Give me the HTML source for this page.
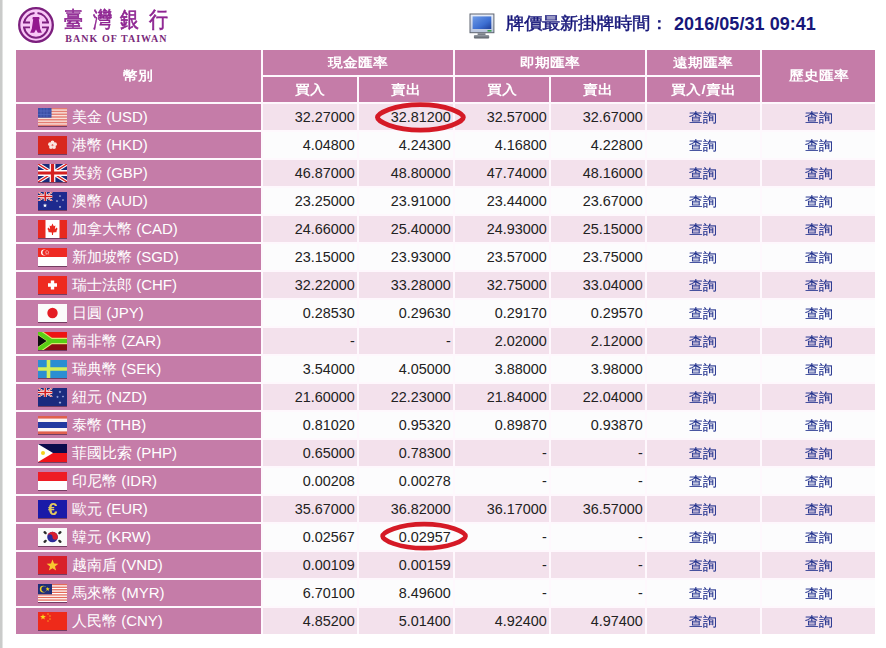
<!DOCTYPE html>
<html><head><meta charset="utf-8">
<style>
html,body{margin:0;padding:0;background:#fff;}
body{width:886px;height:648px;position:relative;overflow:hidden;font-family:"Liberation Sans",sans-serif;}
.c{position:absolute;display:flex;align-items:center;justify-content:center;box-sizing:border-box;}
.h{color:#fff;font-weight:bold;font-size:15px;line-height:15px;transform:scaleY(0.88);}
.nm{color:#fff;font-size:15px;line-height:15px;white-space:nowrap;}
.n{color:#222;font-size:14.4px;line-height:14px;padding-right:2px;position:relative;top:0.6px;}
.q{color:#20308c;-webkit-text-stroke:0.15px #20308c;font-size:14px;line-height:14px;position:relative;top:0.4px;transform:scaleY(0.94);}
.flag{display:block;position:relative;top:0px;margin-left:22px;margin-right:5px;flex:none;filter:drop-shadow(0.3px 1px 0.5px rgba(50,10,40,0.55));}
.bar{position:absolute;left:0;top:0;width:3.2px;height:648px;background:linear-gradient(90deg,#cacbca 0,#cacbca 1.9px,#fff 3.2px);}
.lg{position:absolute;top:7.2px;width:30px;text-align:center;color:#8e2592;font-size:22px;line-height:26px;-webkit-text-stroke:0.6px #8e2592;transform:scaleX(0.86);}
.title{position:absolute;left:505.5px;top:13.2px;transform:scaleY(0.92);font-size:18px;line-height:20px;font-weight:normal;-webkit-text-stroke:0.45px #17177a;color:#17177a;white-space:nowrap;}
.date{position:absolute;left:674px;top:14px;font-size:18px;line-height:20px;font-weight:bold;color:#17177a;white-space:nowrap;letter-spacing:0.05px}
</style></head><body>
<div class="bar"></div>
<svg class="logo" width="40" height="40" viewBox="0 0 40 40" style="position:absolute;left:16.25px;top:5.05px">
<circle cx="20" cy="20" r="16.8" fill="#f8c6f6" stroke="#7c1f7e" stroke-width="2.3"/>
<path d="M18.5 8.1A12 12 0 0 0 8.1 17.6M21.5 8.1A12 12 0 0 1 31.9 17.6M8.1 22.4A12 12 0 0 0 31.9 22.4" fill="none" stroke="#7c1f7e" stroke-width="2.0"/>
<path d="M7 17.5H14M7 22.4H14M26 17.5H33M26 22.4H33" stroke="#7c1f7e" stroke-width="1.9"/>
<path d="M16.8 12H23.2L23.6 14.2H22.8L24.2 23.8L25.9 27.8H21.8L20 24.5L18.2 27.8H14.1L15.8 23.8L17.2 14.2H16.4Z" fill="#93188f"/>
</svg>
<div class="lg" style="left:58.30px">臺</div><div class="lg" style="left:86.75px">灣</div><div class="lg" style="left:113.85px">銀</div><div class="lg" style="left:142.95px">行</div>
<div style="position:absolute;left:65.3px;top:33.8px;color:#7a2a7a;font-family:'Liberation Serif',serif;font-size:10px;line-height:10px;font-weight:bold;letter-spacing:1.05px;white-space:nowrap">BANK OF TAIWAN</div>
<svg width="26" height="26" viewBox="0 0 26 26" style="position:absolute;left:468.5px;top:12.5px">
<defs>
<linearGradient id="scr" x1="0" y1="0" x2="1" y2="1"><stop offset="0" stop-color="#6f9be6"/><stop offset="0.6" stop-color="#3d6fd2"/><stop offset="1" stop-color="#1f3f9a"/></linearGradient>
<linearGradient id="bz" x1="0" y1="0" x2="0" y2="1"><stop offset="0" stop-color="#e8eefa"/><stop offset="1" stop-color="#b8c4dc"/></linearGradient>
<linearGradient id="st" x1="0" y1="0" x2="0" y2="1"><stop offset="0" stop-color="#9aa0a8"/><stop offset="1" stop-color="#5a6068"/></linearGradient>
</defs>
<rect x="1" y="1" width="23.9" height="18.7" fill="url(#bz)" stroke="#5e6470" stroke-width="1"/>
<rect x="3.6" y="3.4" width="18.7" height="12.6" fill="url(#scr)"/>
<rect x="18.5" y="17" width="4" height="1.6" fill="#3aa04a"/>
<rect x="8.6" y="20.2" width="7.9" height="1.8" fill="#7a8088"/>
<rect x="4.9" y="22" width="15.3" height="3.4" rx="1" fill="url(#st)"/>
</svg>
<div class="title">牌價最新掛牌時間：</div><div class="date">2016/05/31 09:41</div>
<div style="position:absolute;left:16px;top:49.9px;width:859px;height:584px;background:#fef8fd"></div>
<div class="c" style="left:16px;top:49.9px;width:244.70px;height:51.90px;background:#c57ca8;"><span class="h">幣別</span></div>
<div class="c" style="left:263px;top:49.9px;width:189.80px;height:25.00px;background:#c57ca8;"><span class="h">現金匯率</span></div>
<div class="c" style="left:455.1px;top:49.9px;width:189.70px;height:25.00px;background:#c57ca8;"><span class="h">即期匯率</span></div>
<div class="c" style="left:647.1px;top:49.9px;width:112.80px;height:25.00px;background:#c57ca8;"><span class="h">遠期匯率</span></div>
<div class="c" style="left:762.2px;top:49.9px;width:112.80px;height:51.90px;background:#c57ca8;"><span class="h">歷史匯率</span></div>
<div class="c" style="left:263px;top:77.0px;width:93.80px;height:24.80px;background:#c57ca8;"><span class="h">買入</span></div>
<div class="c" style="left:359.1px;top:77.0px;width:93.70px;height:24.80px;background:#c57ca8;"><span class="h">賣出</span></div>
<div class="c" style="left:455.1px;top:77.0px;width:93.60px;height:24.80px;background:#c57ca8;"><span class="h">買入</span></div>
<div class="c" style="left:551px;top:77.0px;width:93.80px;height:24.80px;background:#c57ca8;"><span class="h">賣出</span></div>
<div class="c" style="left:647.1px;top:77.0px;width:112.80px;height:24.80px;background:#c57ca8;"><span class="h">買入/賣出</span></div>
<div class="c" style="left:16px;top:103.9px;width:244.70px;height:25.95px;background:#c57ca8;justify-content:flex-start"><svg class="flag" width="29" height="18" viewBox="0 0 29 18"><rect width="29" height="18" fill="#f8e2dc"/><rect y="0.00" width="29" height="1.38" fill="#e47d72"/><rect y="2.77" width="29" height="1.38" fill="#e47d72"/><rect y="5.54" width="29" height="1.38" fill="#e47d72"/><rect y="8.31" width="29" height="1.38" fill="#e47d72"/><rect y="11.08" width="29" height="1.38" fill="#e47d72"/><rect y="13.85" width="29" height="1.38" fill="#e47d72"/><rect y="16.62" width="29" height="1.38" fill="#e47d72"/><rect width="13.5" height="9.7" fill="#3b4fa6"/><path d="M3 0V9.7M6 0V9.7M9 0V9.7M0 3H13.5M0 6.5H13.5" stroke="#5b70c6" stroke-width="0.6"/></svg><span class="nm">美金 (USD)</span></div>
<div class="c" style="left:263px;top:103.9px;width:93.80px;height:25.95px;background:#f3e1ec;justify-content:flex-end"><span class="n">32.27000</span></div>
<div class="c" style="left:359.1px;top:103.9px;width:93.70px;height:25.95px;background:#f3e1ec;justify-content:flex-end"><span class="n">32.81200</span></div>
<div class="c" style="left:455.1px;top:103.9px;width:93.60px;height:25.95px;background:#f3e1ec;justify-content:flex-end"><span class="n">32.57000</span></div>
<div class="c" style="left:551px;top:103.9px;width:93.80px;height:25.95px;background:#f3e1ec;justify-content:flex-end"><span class="n">32.67000</span></div>
<div class="c" style="left:647.1px;top:103.9px;width:112.80px;height:25.95px;background:#f3e1ec;"><span class="q">查詢</span></div>
<div class="c" style="left:762.2px;top:103.9px;width:112.80px;height:25.95px;background:#f3e1ec;"><span class="q">查詢</span></div>
<div class="c" style="left:16px;top:131.89000000000001px;width:244.70px;height:25.95px;background:#c57ca8;justify-content:flex-start"><svg class="flag" width="29" height="18" viewBox="0 0 29 18"><rect width="29" height="18" fill="#d8281e"/><circle cx="14.50" cy="6.40" r="1.9" fill="#fbe6e0"/><circle cx="16.97" cy="8.20" r="1.9" fill="#fbe6e0"/><circle cx="16.03" cy="11.10" r="1.9" fill="#fbe6e0"/><circle cx="12.97" cy="11.10" r="1.9" fill="#fbe6e0"/><circle cx="12.03" cy="8.20" r="1.9" fill="#fbe6e0"/><circle cx="14.5" cy="9" r="0.8" fill="#e88"/></svg><span class="nm">港幣 (HKD)</span></div>
<div class="c" style="left:263px;top:131.89000000000001px;width:93.80px;height:25.95px;background:#fcfcfd;justify-content:flex-end"><span class="n">4.04800</span></div>
<div class="c" style="left:359.1px;top:131.89000000000001px;width:93.70px;height:25.95px;background:#fcfcfd;justify-content:flex-end"><span class="n">4.24300</span></div>
<div class="c" style="left:455.1px;top:131.89000000000001px;width:93.60px;height:25.95px;background:#fcfcfd;justify-content:flex-end"><span class="n">4.16800</span></div>
<div class="c" style="left:551px;top:131.89000000000001px;width:93.80px;height:25.95px;background:#fcfcfd;justify-content:flex-end"><span class="n">4.22800</span></div>
<div class="c" style="left:647.1px;top:131.89000000000001px;width:112.80px;height:25.95px;background:#fcfcfd;"><span class="q">查詢</span></div>
<div class="c" style="left:762.2px;top:131.89000000000001px;width:112.80px;height:25.95px;background:#fcfcfd;"><span class="q">查詢</span></div>
<div class="c" style="left:16px;top:159.88px;width:244.70px;height:25.95px;background:#c57ca8;justify-content:flex-start"><svg class="flag" width="29" height="18" viewBox="0 0 29 18"><rect width="29" height="18" fill="#1a2a7a"/><path d="M0 0L29 18M29 0L0 18" stroke="#fff" stroke-width="3.60"/><path d="M0 0L29 18M29 0L0 18" stroke="#d22" stroke-width="1.44"/><path d="M14.5 0V18M0 9.0H29" stroke="#fff" stroke-width="5.76"/><path d="M14.5 0V18M0 9.0H29" stroke="#d42020" stroke-width="3.24"/></svg><span class="nm">英鎊 (GBP)</span></div>
<div class="c" style="left:263px;top:159.88px;width:93.80px;height:25.95px;background:#f3e1ec;justify-content:flex-end"><span class="n">46.87000</span></div>
<div class="c" style="left:359.1px;top:159.88px;width:93.70px;height:25.95px;background:#f3e1ec;justify-content:flex-end"><span class="n">48.80000</span></div>
<div class="c" style="left:455.1px;top:159.88px;width:93.60px;height:25.95px;background:#f3e1ec;justify-content:flex-end"><span class="n">47.74000</span></div>
<div class="c" style="left:551px;top:159.88px;width:93.80px;height:25.95px;background:#f3e1ec;justify-content:flex-end"><span class="n">48.16000</span></div>
<div class="c" style="left:647.1px;top:159.88px;width:112.80px;height:25.95px;background:#f3e1ec;"><span class="q">查詢</span></div>
<div class="c" style="left:762.2px;top:159.88px;width:112.80px;height:25.95px;background:#f3e1ec;"><span class="q">查詢</span></div>
<div class="c" style="left:16px;top:187.87px;width:244.70px;height:25.95px;background:#c57ca8;justify-content:flex-start"><svg class="flag" width="29" height="18" viewBox="0 0 29 18"><rect width="29" height="18" fill="#1e2a8e"/><svg width="14.5" height="9"><rect width="14.5" height="9" fill="#1a2a7a"/><path d="M0 0L14.5 9M14.5 0L0 9" stroke="#fff" stroke-width="1.80"/><path d="M0 0L14.5 9M14.5 0L0 9" stroke="#d22" stroke-width="0.72"/><path d="M7.25 0V9M0 4.5H14.5" stroke="#fff" stroke-width="2.88"/><path d="M7.25 0V9M0 4.5H14.5" stroke="#d42020" stroke-width="1.62"/></svg><polygon points="7.00,11.20 7.57,12.72 9.19,12.79 7.92,13.80 8.35,15.36 7.00,14.47 5.65,15.36 6.08,13.80 4.81,12.79 6.43,12.72" fill="#fff"/><polygon points="22.00,2.90 22.27,3.63 23.05,3.66 22.44,4.14 22.65,4.89 22.00,4.46 21.35,4.89 21.56,4.14 20.95,3.66 21.73,3.63" fill="#fff"/><polygon points="19.00,7.90 19.27,8.63 20.05,8.66 19.44,9.14 19.65,9.89 19.00,9.46 18.35,9.89 18.56,9.14 17.95,8.66 18.73,8.63" fill="#fff"/><polygon points="25.00,6.90 25.27,7.63 26.05,7.66 25.44,8.14 25.65,8.89 25.00,8.46 24.35,8.89 24.56,8.14 23.95,7.66 24.73,7.63" fill="#fff"/><polygon points="22.00,13.80 22.30,14.59 23.14,14.63 22.48,15.16 22.71,15.97 22.00,15.50 21.29,15.97 21.52,15.16 20.86,14.63 21.70,14.59" fill="#fff"/></svg><span class="nm">澳幣 (AUD)</span></div>
<div class="c" style="left:263px;top:187.87px;width:93.80px;height:25.95px;background:#fcfcfd;justify-content:flex-end"><span class="n">23.25000</span></div>
<div class="c" style="left:359.1px;top:187.87px;width:93.70px;height:25.95px;background:#fcfcfd;justify-content:flex-end"><span class="n">23.91000</span></div>
<div class="c" style="left:455.1px;top:187.87px;width:93.60px;height:25.95px;background:#fcfcfd;justify-content:flex-end"><span class="n">23.44000</span></div>
<div class="c" style="left:551px;top:187.87px;width:93.80px;height:25.95px;background:#fcfcfd;justify-content:flex-end"><span class="n">23.67000</span></div>
<div class="c" style="left:647.1px;top:187.87px;width:112.80px;height:25.95px;background:#fcfcfd;"><span class="q">查詢</span></div>
<div class="c" style="left:762.2px;top:187.87px;width:112.80px;height:25.95px;background:#fcfcfd;"><span class="q">查詢</span></div>
<div class="c" style="left:16px;top:215.86px;width:244.70px;height:25.95px;background:#c57ca8;justify-content:flex-start"><svg class="flag" width="29" height="18" viewBox="0 0 29 18"><rect width="29" height="18" fill="#fff"/><rect width="7.5" height="18" fill="#e8281e"/><rect x="21.5" width="7.5" height="18" fill="#e8281e"/><path d="M14.5 3.5L15.8 6.2L17.4 5.6L16.8 9.2L18.8 7.6L19.5 9L18.2 11.4L19.2 12L15.2 12.6L15 15H14L13.8 12.6L9.8 12L10.8 11.4L9.5 9L10.2 7.6L12.2 9.2L11.6 5.6L13.2 6.2Z" fill="#e8281e"/></svg><span class="nm">加拿大幣 (CAD)</span></div>
<div class="c" style="left:263px;top:215.86px;width:93.80px;height:25.95px;background:#f3e1ec;justify-content:flex-end"><span class="n">24.66000</span></div>
<div class="c" style="left:359.1px;top:215.86px;width:93.70px;height:25.95px;background:#f3e1ec;justify-content:flex-end"><span class="n">25.40000</span></div>
<div class="c" style="left:455.1px;top:215.86px;width:93.60px;height:25.95px;background:#f3e1ec;justify-content:flex-end"><span class="n">24.93000</span></div>
<div class="c" style="left:551px;top:215.86px;width:93.80px;height:25.95px;background:#f3e1ec;justify-content:flex-end"><span class="n">25.15000</span></div>
<div class="c" style="left:647.1px;top:215.86px;width:112.80px;height:25.95px;background:#f3e1ec;"><span class="q">查詢</span></div>
<div class="c" style="left:762.2px;top:215.86px;width:112.80px;height:25.95px;background:#f3e1ec;"><span class="q">查詢</span></div>
<div class="c" style="left:16px;top:243.85px;width:244.70px;height:25.95px;background:#c57ca8;justify-content:flex-start"><svg class="flag" width="29" height="18" viewBox="0 0 29 18"><rect width="29" height="18" fill="#fff"/><rect width="29" height="9" fill="#ee2a24"/><circle cx="6" cy="4.5" r="3" fill="#fff"/><circle cx="7.2" cy="4.5" r="2.7" fill="#ee2a24"/><circle cx="9" cy="2.8" r="0.6" fill="#fff"/><circle cx="10.5" cy="4" r="0.6" fill="#fff"/><circle cx="10" cy="5.8" r="0.6" fill="#fff"/><circle cx="8.2" cy="5.8" r="0.6" fill="#fff"/><circle cx="7.8" cy="4" r="0.6" fill="#fff"/></svg><span class="nm">新加坡幣 (SGD)</span></div>
<div class="c" style="left:263px;top:243.85px;width:93.80px;height:25.95px;background:#fcfcfd;justify-content:flex-end"><span class="n">23.15000</span></div>
<div class="c" style="left:359.1px;top:243.85px;width:93.70px;height:25.95px;background:#fcfcfd;justify-content:flex-end"><span class="n">23.93000</span></div>
<div class="c" style="left:455.1px;top:243.85px;width:93.60px;height:25.95px;background:#fcfcfd;justify-content:flex-end"><span class="n">23.57000</span></div>
<div class="c" style="left:551px;top:243.85px;width:93.80px;height:25.95px;background:#fcfcfd;justify-content:flex-end"><span class="n">23.75000</span></div>
<div class="c" style="left:647.1px;top:243.85px;width:112.80px;height:25.95px;background:#fcfcfd;"><span class="q">查詢</span></div>
<div class="c" style="left:762.2px;top:243.85px;width:112.80px;height:25.95px;background:#fcfcfd;"><span class="q">查詢</span></div>
<div class="c" style="left:16px;top:271.84000000000003px;width:244.70px;height:25.95px;background:#c57ca8;justify-content:flex-start"><svg class="flag" width="29" height="18" viewBox="0 0 29 18"><rect width="29" height="18" fill="#ee2a20"/><path d="M12.8 4.5H16.2V7.3H19V10.7H16.2V13.5H12.8V10.7H10V7.3H12.8Z" fill="#fff"/></svg><span class="nm">瑞士法郎 (CHF)</span></div>
<div class="c" style="left:263px;top:271.84000000000003px;width:93.80px;height:25.95px;background:#f3e1ec;justify-content:flex-end"><span class="n">32.22000</span></div>
<div class="c" style="left:359.1px;top:271.84000000000003px;width:93.70px;height:25.95px;background:#f3e1ec;justify-content:flex-end"><span class="n">33.28000</span></div>
<div class="c" style="left:455.1px;top:271.84000000000003px;width:93.60px;height:25.95px;background:#f3e1ec;justify-content:flex-end"><span class="n">32.75000</span></div>
<div class="c" style="left:551px;top:271.84000000000003px;width:93.80px;height:25.95px;background:#f3e1ec;justify-content:flex-end"><span class="n">33.04000</span></div>
<div class="c" style="left:647.1px;top:271.84000000000003px;width:112.80px;height:25.95px;background:#f3e1ec;"><span class="q">查詢</span></div>
<div class="c" style="left:762.2px;top:271.84000000000003px;width:112.80px;height:25.95px;background:#f3e1ec;"><span class="q">查詢</span></div>
<div class="c" style="left:16px;top:299.83px;width:244.70px;height:25.95px;background:#c57ca8;justify-content:flex-start"><svg class="flag" width="29" height="18" viewBox="0 0 29 18"><rect width="29" height="18" fill="#fbfbfb"/><circle cx="14.5" cy="9" r="5.2" fill="#e41c24"/></svg><span class="nm">日圓 (JPY)</span></div>
<div class="c" style="left:263px;top:299.83px;width:93.80px;height:25.95px;background:#fcfcfd;justify-content:flex-end"><span class="n">0.28530</span></div>
<div class="c" style="left:359.1px;top:299.83px;width:93.70px;height:25.95px;background:#fcfcfd;justify-content:flex-end"><span class="n">0.29630</span></div>
<div class="c" style="left:455.1px;top:299.83px;width:93.60px;height:25.95px;background:#fcfcfd;justify-content:flex-end"><span class="n">0.29170</span></div>
<div class="c" style="left:551px;top:299.83px;width:93.80px;height:25.95px;background:#fcfcfd;justify-content:flex-end"><span class="n">0.29570</span></div>
<div class="c" style="left:647.1px;top:299.83px;width:112.80px;height:25.95px;background:#fcfcfd;"><span class="q">查詢</span></div>
<div class="c" style="left:762.2px;top:299.83px;width:112.80px;height:25.95px;background:#fcfcfd;"><span class="q">查詢</span></div>
<div class="c" style="left:16px;top:327.82px;width:244.70px;height:25.95px;background:#c57ca8;justify-content:flex-start"><svg class="flag" width="29" height="18" viewBox="0 0 29 18"><rect width="29" height="18" fill="#8c0c14"/><rect width="29" height="9" fill="#ee1414"/><path d="M0 0L13 9L0 18M13 9H29" stroke="#d8e870" stroke-width="6.4" fill="none"/><path d="M0 0L13 9L0 18M13 9H29" stroke="#58d014" stroke-width="4.2" fill="none"/><path d="M0 3.2L8.6 9L0 14.8Z" fill="#0c0c0c"/></svg><span class="nm">南非幣 (ZAR)</span></div>
<div class="c" style="left:263px;top:327.82px;width:93.80px;height:25.95px;background:#f3e1ec;justify-content:flex-end"><span class="n">-</span></div>
<div class="c" style="left:359.1px;top:327.82px;width:93.70px;height:25.95px;background:#f3e1ec;justify-content:flex-end"><span class="n">-</span></div>
<div class="c" style="left:455.1px;top:327.82px;width:93.60px;height:25.95px;background:#f3e1ec;justify-content:flex-end"><span class="n">2.02000</span></div>
<div class="c" style="left:551px;top:327.82px;width:93.80px;height:25.95px;background:#f3e1ec;justify-content:flex-end"><span class="n">2.12000</span></div>
<div class="c" style="left:647.1px;top:327.82px;width:112.80px;height:25.95px;background:#f3e1ec;"><span class="q">查詢</span></div>
<div class="c" style="left:762.2px;top:327.82px;width:112.80px;height:25.95px;background:#f3e1ec;"><span class="q">查詢</span></div>
<div class="c" style="left:16px;top:355.81px;width:244.70px;height:25.95px;background:#c57ca8;justify-content:flex-start"><svg class="flag" width="29" height="18" viewBox="0 0 29 18"><rect width="29" height="18" fill="#2a8ed2"/><path d="M0 9H29M10.5 0V18" stroke="#d4ee5a" stroke-width="3.6"/></svg><span class="nm">瑞典幣 (SEK)</span></div>
<div class="c" style="left:263px;top:355.81px;width:93.80px;height:25.95px;background:#fcfcfd;justify-content:flex-end"><span class="n">3.54000</span></div>
<div class="c" style="left:359.1px;top:355.81px;width:93.70px;height:25.95px;background:#fcfcfd;justify-content:flex-end"><span class="n">4.05000</span></div>
<div class="c" style="left:455.1px;top:355.81px;width:93.60px;height:25.95px;background:#fcfcfd;justify-content:flex-end"><span class="n">3.88000</span></div>
<div class="c" style="left:551px;top:355.81px;width:93.80px;height:25.95px;background:#fcfcfd;justify-content:flex-end"><span class="n">3.98000</span></div>
<div class="c" style="left:647.1px;top:355.81px;width:112.80px;height:25.95px;background:#fcfcfd;"><span class="q">查詢</span></div>
<div class="c" style="left:762.2px;top:355.81px;width:112.80px;height:25.95px;background:#fcfcfd;"><span class="q">查詢</span></div>
<div class="c" style="left:16px;top:383.79999999999995px;width:244.70px;height:25.95px;background:#c57ca8;justify-content:flex-start"><svg class="flag" width="29" height="18" viewBox="0 0 29 18"><rect width="29" height="18" fill="#1a2a7e"/><svg width="14.5" height="9"><rect width="14.5" height="9" fill="#1a2a7a"/><path d="M0 0L14.5 9M14.5 0L0 9" stroke="#fff" stroke-width="1.80"/><path d="M0 0L14.5 9M14.5 0L0 9" stroke="#d22" stroke-width="0.72"/><path d="M7.25 0V9M0 4.5H14.5" stroke="#fff" stroke-width="2.88"/><path d="M7.25 0V9M0 4.5H14.5" stroke="#d42020" stroke-width="1.62"/></svg><polygon points="22.00,2.60 22.35,3.52 23.33,3.57 22.56,4.18 22.82,5.13 22.00,4.59 21.18,5.13 21.44,4.18 20.67,3.57 21.65,3.52" fill="#b8c4ee"/><polygon points="19.50,7.60 19.85,8.52 20.83,8.57 20.06,9.18 20.32,10.13 19.50,9.59 18.68,10.13 18.94,9.18 18.17,8.57 19.15,8.52" fill="#a8b4e8"/><polygon points="25.00,7.20 25.32,8.06 26.24,8.10 25.52,8.67 25.76,9.55 25.00,9.05 24.24,9.55 24.48,8.67 23.76,8.10 24.68,8.06" fill="#a8b4e8"/><polygon points="22.00,13.00 22.37,13.99 23.43,14.04 22.60,14.69 22.88,15.71 22.00,15.13 21.12,15.71 21.40,14.69 20.57,14.04 21.63,13.99" fill="#b8c4ee"/></svg><span class="nm">紐元 (NZD)</span></div>
<div class="c" style="left:263px;top:383.79999999999995px;width:93.80px;height:25.95px;background:#f3e1ec;justify-content:flex-end"><span class="n">21.60000</span></div>
<div class="c" style="left:359.1px;top:383.79999999999995px;width:93.70px;height:25.95px;background:#f3e1ec;justify-content:flex-end"><span class="n">22.23000</span></div>
<div class="c" style="left:455.1px;top:383.79999999999995px;width:93.60px;height:25.95px;background:#f3e1ec;justify-content:flex-end"><span class="n">21.84000</span></div>
<div class="c" style="left:551px;top:383.79999999999995px;width:93.80px;height:25.95px;background:#f3e1ec;justify-content:flex-end"><span class="n">22.04000</span></div>
<div class="c" style="left:647.1px;top:383.79999999999995px;width:112.80px;height:25.95px;background:#f3e1ec;"><span class="q">查詢</span></div>
<div class="c" style="left:762.2px;top:383.79999999999995px;width:112.80px;height:25.95px;background:#f3e1ec;"><span class="q">查詢</span></div>
<div class="c" style="left:16px;top:411.78999999999996px;width:244.70px;height:25.95px;background:#c57ca8;justify-content:flex-start"><svg class="flag" width="29" height="18" viewBox="0 0 29 18"><rect width="29" height="18" fill="#e0604e"/><rect y="2.6" width="29" height="12.8" fill="#fbf4f4"/><rect y="6" width="29" height="6" fill="#2338a0"/></svg><span class="nm">泰幣 (THB)</span></div>
<div class="c" style="left:263px;top:411.78999999999996px;width:93.80px;height:25.95px;background:#fcfcfd;justify-content:flex-end"><span class="n">0.81020</span></div>
<div class="c" style="left:359.1px;top:411.78999999999996px;width:93.70px;height:25.95px;background:#fcfcfd;justify-content:flex-end"><span class="n">0.95320</span></div>
<div class="c" style="left:455.1px;top:411.78999999999996px;width:93.60px;height:25.95px;background:#fcfcfd;justify-content:flex-end"><span class="n">0.89870</span></div>
<div class="c" style="left:551px;top:411.78999999999996px;width:93.80px;height:25.95px;background:#fcfcfd;justify-content:flex-end"><span class="n">0.93870</span></div>
<div class="c" style="left:647.1px;top:411.78999999999996px;width:112.80px;height:25.95px;background:#fcfcfd;"><span class="q">查詢</span></div>
<div class="c" style="left:762.2px;top:411.78999999999996px;width:112.80px;height:25.95px;background:#fcfcfd;"><span class="q">查詢</span></div>
<div class="c" style="left:16px;top:439.78px;width:244.70px;height:25.95px;background:#c57ca8;justify-content:flex-start"><svg class="flag" width="29" height="18" viewBox="0 0 29 18"><rect width="29" height="9" fill="#0c0c4c"/><rect y="9" width="29" height="9" fill="#f0141a"/><path d="M0 0L15 9L0 18Z" fill="#fff"/><circle cx="5" cy="9" r="2" fill="#f4d21e"/></svg><span class="nm">菲國比索 (PHP)</span></div>
<div class="c" style="left:263px;top:439.78px;width:93.80px;height:25.95px;background:#f3e1ec;justify-content:flex-end"><span class="n">0.65000</span></div>
<div class="c" style="left:359.1px;top:439.78px;width:93.70px;height:25.95px;background:#f3e1ec;justify-content:flex-end"><span class="n">0.78300</span></div>
<div class="c" style="left:455.1px;top:439.78px;width:93.60px;height:25.95px;background:#f3e1ec;justify-content:flex-end"><span class="n">-</span></div>
<div class="c" style="left:551px;top:439.78px;width:93.80px;height:25.95px;background:#f3e1ec;justify-content:flex-end"><span class="n">-</span></div>
<div class="c" style="left:647.1px;top:439.78px;width:112.80px;height:25.95px;background:#f3e1ec;"><span class="q">查詢</span></div>
<div class="c" style="left:762.2px;top:439.78px;width:112.80px;height:25.95px;background:#f3e1ec;"><span class="q">查詢</span></div>
<div class="c" style="left:16px;top:467.77px;width:244.70px;height:25.95px;background:#c57ca8;justify-content:flex-start"><svg class="flag" width="29" height="18" viewBox="0 0 29 18"><rect width="29" height="18" fill="#fff"/><rect width="29" height="9" fill="#ee1c24"/></svg><span class="nm">印尼幣 (IDR)</span></div>
<div class="c" style="left:263px;top:467.77px;width:93.80px;height:25.95px;background:#fcfcfd;justify-content:flex-end"><span class="n">0.00208</span></div>
<div class="c" style="left:359.1px;top:467.77px;width:93.70px;height:25.95px;background:#fcfcfd;justify-content:flex-end"><span class="n">0.00278</span></div>
<div class="c" style="left:455.1px;top:467.77px;width:93.60px;height:25.95px;background:#fcfcfd;justify-content:flex-end"><span class="n">-</span></div>
<div class="c" style="left:551px;top:467.77px;width:93.80px;height:25.95px;background:#fcfcfd;justify-content:flex-end"><span class="n">-</span></div>
<div class="c" style="left:647.1px;top:467.77px;width:112.80px;height:25.95px;background:#fcfcfd;"><span class="q">查詢</span></div>
<div class="c" style="left:762.2px;top:467.77px;width:112.80px;height:25.95px;background:#fcfcfd;"><span class="q">查詢</span></div>
<div class="c" style="left:16px;top:495.76px;width:244.70px;height:25.95px;background:#c57ca8;justify-content:flex-start"><svg class="flag" width="29" height="18" viewBox="0 0 29 18"><rect width="29" height="18" fill="#1a1aa8"/><text x="14.8" y="14.6" text-anchor="middle" font-family="Liberation Sans" font-weight="bold" font-size="17" fill="#e0c860">€</text></svg><span class="nm">歐元 (EUR)</span></div>
<div class="c" style="left:263px;top:495.76px;width:93.80px;height:25.95px;background:#f3e1ec;justify-content:flex-end"><span class="n">35.67000</span></div>
<div class="c" style="left:359.1px;top:495.76px;width:93.70px;height:25.95px;background:#f3e1ec;justify-content:flex-end"><span class="n">36.82000</span></div>
<div class="c" style="left:455.1px;top:495.76px;width:93.60px;height:25.95px;background:#f3e1ec;justify-content:flex-end"><span class="n">36.17000</span></div>
<div class="c" style="left:551px;top:495.76px;width:93.80px;height:25.95px;background:#f3e1ec;justify-content:flex-end"><span class="n">36.57000</span></div>
<div class="c" style="left:647.1px;top:495.76px;width:112.80px;height:25.95px;background:#f3e1ec;"><span class="q">查詢</span></div>
<div class="c" style="left:762.2px;top:495.76px;width:112.80px;height:25.95px;background:#f3e1ec;"><span class="q">查詢</span></div>
<div class="c" style="left:16px;top:523.75px;width:244.70px;height:25.95px;background:#c57ca8;justify-content:flex-start"><svg class="flag" width="29" height="18" viewBox="0 0 29 18"><rect width="29" height="18" fill="#fafafa"/><circle cx="14.5" cy="9" r="5.3" fill="#2a2a9a"/><path d="M9.2 9A5.3 5.3 0 0 1 19.8 9A2.65 2.65 0 0 1 14.5 9A2.65 2.65 0 0 0 9.2 9Z" fill="#d81e2e"/><path d="M6.6 4.2L7.6 5.1M21.4 5.1L22.4 4.2M6.6 13.8L7.6 12.9M21.4 12.9L22.4 13.8" stroke="#2a2a2a" stroke-width="2.4" stroke-linecap="round"/></svg><span class="nm">韓元 (KRW)</span></div>
<div class="c" style="left:263px;top:523.75px;width:93.80px;height:25.95px;background:#fcfcfd;justify-content:flex-end"><span class="n">0.02567</span></div>
<div class="c" style="left:359.1px;top:523.75px;width:93.70px;height:25.95px;background:#fcfcfd;justify-content:flex-end"><span class="n">0.02957</span></div>
<div class="c" style="left:455.1px;top:523.75px;width:93.60px;height:25.95px;background:#fcfcfd;justify-content:flex-end"><span class="n">-</span></div>
<div class="c" style="left:551px;top:523.75px;width:93.80px;height:25.95px;background:#fcfcfd;justify-content:flex-end"><span class="n">-</span></div>
<div class="c" style="left:647.1px;top:523.75px;width:112.80px;height:25.95px;background:#fcfcfd;"><span class="q">查詢</span></div>
<div class="c" style="left:762.2px;top:523.75px;width:112.80px;height:25.95px;background:#fcfcfd;"><span class="q">查詢</span></div>
<div class="c" style="left:16px;top:551.74px;width:244.70px;height:25.95px;background:#c57ca8;justify-content:flex-start"><svg class="flag" width="29" height="18" viewBox="0 0 29 18"><rect width="29" height="18" fill="#d8202a"/><polygon points="14.50,3.40 16.03,7.49 20.40,7.68 16.98,10.40 18.14,14.62 14.50,12.20 10.86,14.62 12.02,10.40 8.60,7.68 12.97,7.49" fill="#f8c830"/></svg><span class="nm">越南盾 (VND)</span></div>
<div class="c" style="left:263px;top:551.74px;width:93.80px;height:25.95px;background:#f3e1ec;justify-content:flex-end"><span class="n">0.00109</span></div>
<div class="c" style="left:359.1px;top:551.74px;width:93.70px;height:25.95px;background:#f3e1ec;justify-content:flex-end"><span class="n">0.00159</span></div>
<div class="c" style="left:455.1px;top:551.74px;width:93.60px;height:25.95px;background:#f3e1ec;justify-content:flex-end"><span class="n">-</span></div>
<div class="c" style="left:551px;top:551.74px;width:93.80px;height:25.95px;background:#f3e1ec;justify-content:flex-end"><span class="n">-</span></div>
<div class="c" style="left:647.1px;top:551.74px;width:112.80px;height:25.95px;background:#f3e1ec;"><span class="q">查詢</span></div>
<div class="c" style="left:762.2px;top:551.74px;width:112.80px;height:25.95px;background:#f3e1ec;"><span class="q">查詢</span></div>
<div class="c" style="left:16px;top:579.73px;width:244.70px;height:25.95px;background:#c57ca8;justify-content:flex-start"><svg class="flag" width="29" height="18" viewBox="0 0 29 18"><rect width="29" height="18" fill="#fff"/><rect y="0.00" width="29" height="1.29" fill="#e46a5a"/><rect y="2.57" width="29" height="1.29" fill="#e46a5a"/><rect y="5.14" width="29" height="1.29" fill="#e46a5a"/><rect y="7.71" width="29" height="1.29" fill="#e46a5a"/><rect y="10.29" width="29" height="1.29" fill="#e46a5a"/><rect y="12.86" width="29" height="1.29" fill="#e46a5a"/><rect y="15.43" width="29" height="1.29" fill="#e46a5a"/><rect width="14" height="10.3" fill="#1e2e78"/><circle cx="5.2" cy="5.1" r="3.4" fill="#f0d020"/><circle cx="6.2" cy="5.1" r="2.8" fill="#1e2e78"/><polygon points="9.70,2.90 10.24,4.35 11.79,4.42 10.58,5.39 10.99,6.88 9.70,6.02 8.41,6.88 8.82,5.39 7.61,4.42 9.16,4.35" fill="#f0d020"/></svg><span class="nm">馬來幣 (MYR)</span></div>
<div class="c" style="left:263px;top:579.73px;width:93.80px;height:25.95px;background:#fcfcfd;justify-content:flex-end"><span class="n">6.70100</span></div>
<div class="c" style="left:359.1px;top:579.73px;width:93.70px;height:25.95px;background:#fcfcfd;justify-content:flex-end"><span class="n">8.49600</span></div>
<div class="c" style="left:455.1px;top:579.73px;width:93.60px;height:25.95px;background:#fcfcfd;justify-content:flex-end"><span class="n">-</span></div>
<div class="c" style="left:551px;top:579.73px;width:93.80px;height:25.95px;background:#fcfcfd;justify-content:flex-end"><span class="n">-</span></div>
<div class="c" style="left:647.1px;top:579.73px;width:112.80px;height:25.95px;background:#fcfcfd;"><span class="q">查詢</span></div>
<div class="c" style="left:762.2px;top:579.73px;width:112.80px;height:25.95px;background:#fcfcfd;"><span class="q">查詢</span></div>
<div class="c" style="left:16px;top:607.72px;width:244.70px;height:25.95px;background:#c57ca8;justify-content:flex-start"><svg class="flag" width="29" height="18" viewBox="0 0 29 18"><rect width="29" height="18" fill="#ee2a1a"/><polygon points="5.00,2.00 5.74,3.98 7.85,4.07 6.20,5.39 6.76,7.43 5.00,6.26 3.24,7.43 3.80,5.39 2.15,4.07 4.26,3.98" fill="#f8d820"/><polygon points="10.00,1.00 10.25,1.66 10.95,1.69 10.40,2.13 10.59,2.81 10.00,2.42 9.41,2.81 9.60,2.13 9.05,1.69 9.75,1.66" fill="#f8d820"/><polygon points="12.00,3.00 12.25,3.66 12.95,3.69 12.40,4.13 12.59,4.81 12.00,4.42 11.41,4.81 11.60,4.13 11.05,3.69 11.75,3.66" fill="#f8d820"/><polygon points="12.00,6.00 12.25,6.66 12.95,6.69 12.40,7.13 12.59,7.81 12.00,7.42 11.41,7.81 11.60,7.13 11.05,6.69 11.75,6.66" fill="#f8d820"/><polygon points="10.00,8.00 10.25,8.66 10.95,8.69 10.40,9.13 10.59,9.81 10.00,9.42 9.41,9.81 9.60,9.13 9.05,8.69 9.75,8.66" fill="#f8d820"/></svg><span class="nm">人民幣 (CNY)</span></div>
<div class="c" style="left:263px;top:607.72px;width:93.80px;height:25.95px;background:#f3e1ec;justify-content:flex-end"><span class="n">4.85200</span></div>
<div class="c" style="left:359.1px;top:607.72px;width:93.70px;height:25.95px;background:#f3e1ec;justify-content:flex-end"><span class="n">5.01400</span></div>
<div class="c" style="left:455.1px;top:607.72px;width:93.60px;height:25.95px;background:#f3e1ec;justify-content:flex-end"><span class="n">4.92400</span></div>
<div class="c" style="left:551px;top:607.72px;width:93.80px;height:25.95px;background:#f3e1ec;justify-content:flex-end"><span class="n">4.97400</span></div>
<div class="c" style="left:647.1px;top:607.72px;width:112.80px;height:25.95px;background:#f3e1ec;"><span class="q">查詢</span></div>
<div class="c" style="left:762.2px;top:607.72px;width:112.80px;height:25.95px;background:#f3e1ec;"><span class="q">查詢</span></div>
<svg width="886" height="648" style="position:absolute;left:0;top:0;pointer-events:none">
<path d="M377.40 117.35C377.40 113.27 393.74 104.60 420.40 104.60C447.06 104.60 463.40 113.27 463.40 117.35C463.40 121.43 447.06 130.10 420.40 130.10C393.74 130.10 377.40 121.43 377.40 117.35Z" fill="none" stroke="#d51a26" stroke-width="4.8" stroke-linejoin="round"/>
<path d="M382.55 536.15C382.55 532.31 398.32 524.15 424.05 524.15C449.78 524.15 465.55 532.31 465.55 536.15C465.55 539.99 449.78 548.15 424.05 548.15C398.32 548.15 382.55 539.99 382.55 536.15Z" fill="none" stroke="#d51a26" stroke-width="4.6" stroke-linejoin="round"/>
</svg>
</body></html>
